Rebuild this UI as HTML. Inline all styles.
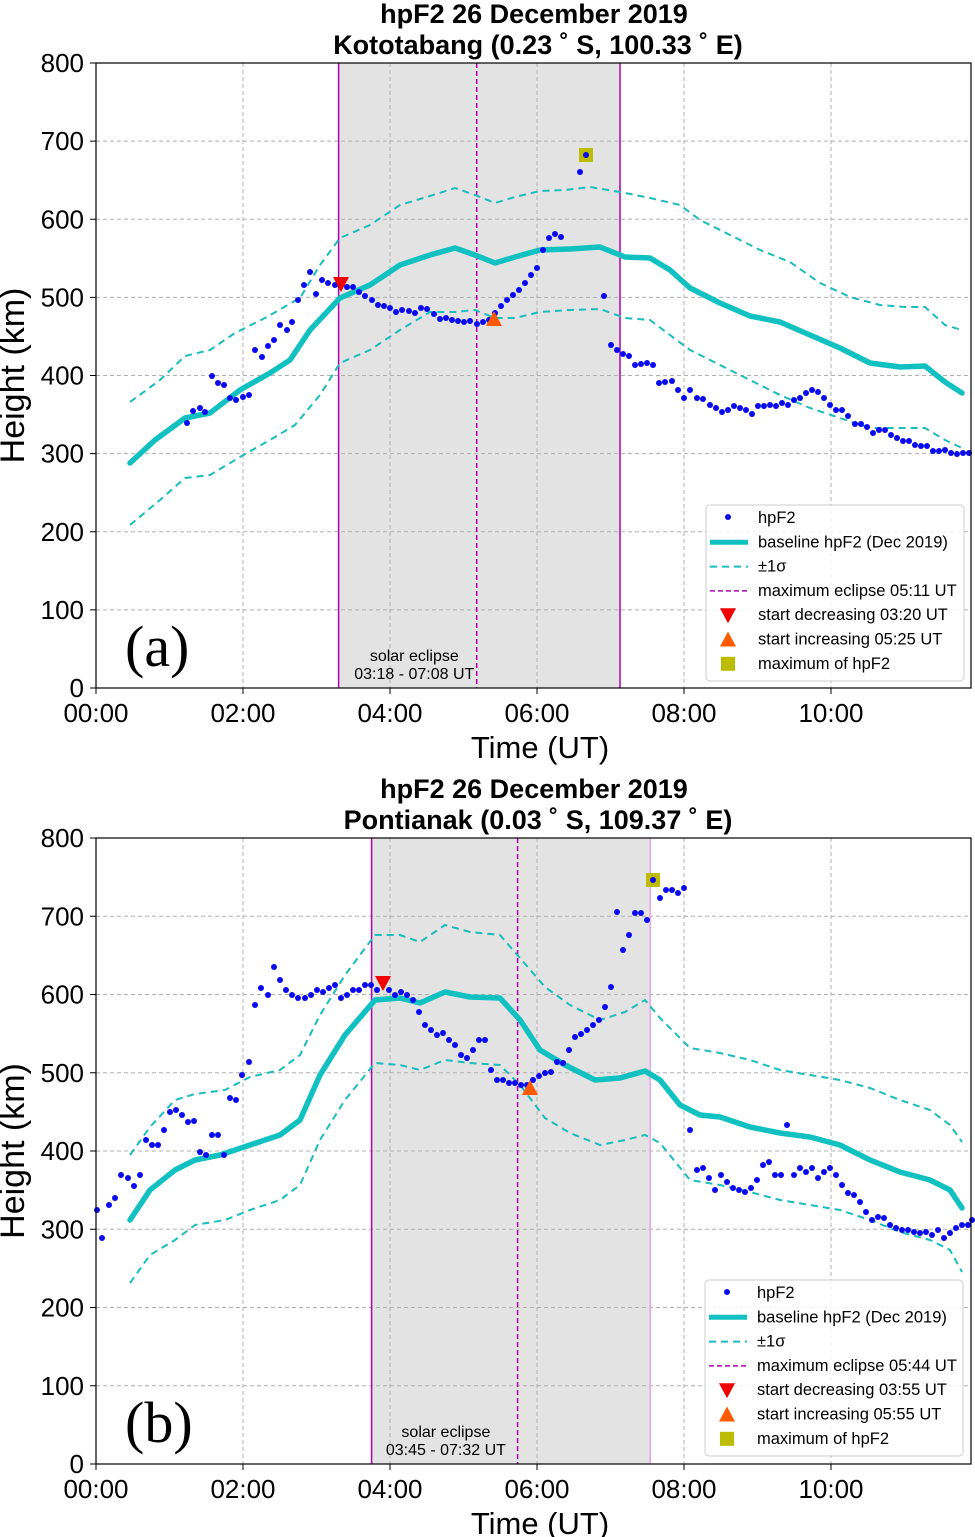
<!DOCTYPE html>
<html><head><meta charset="utf-8"><style>
body{margin:0;background:#fff}
svg{display:block;font-family:"Liberation Sans",sans-serif}
</style></head><body>
<svg id="s" width="975" height="1537" viewBox="0 0 975 1537" xmlns="http://www.w3.org/2000/svg"></svg>
<script>
const S=document.getElementById('s');let h='';
function P(a){return a.map(p=>p.join(',')).join(' ');}
function panel(o){
 const y0=o.y0,y8=o.y8,L=96,R=971,k=(y0-y8)/800;
 h+=`<rect x="${o.es}" y="${y8}" width="${o.ee-o.es}" height="${y0-y8}" fill="#e3e3e3"/>`;
 for(let i=0;i<6;i++){const x=L+i*147;h+=`<line x1="${x}" y1="${y8}" x2="${x}" y2="${y0}" stroke="#b0b0b0" stroke-dasharray="4,3" stroke-width="1"/>`;
  h+=`<text x="${x}" y="${y0+34}" font-size="26" text-anchor="middle">${String(i*2).padStart(2,'0')}:00</text>`;}
 for(let v=0;v<=800;v+=100){const y=y0-v*k;h+=`<line x1="${L}" y1="${y}" x2="${R}" y2="${y}" stroke="#b0b0b0" stroke-dasharray="4,3" stroke-width="1"/>`;
  h+=`<line x1="${L-6}" y1="${y}" x2="${L}" y2="${y}" stroke="#000"/><text x="${L-12}" y="${y+9}" font-size="26" text-anchor="end">${v}</text>`;}
 for(let i=0;i<6;i++){const x=L+i*147;h+=`<line x1="${x}" y1="${y0}" x2="${x}" y2="${y0+6}" stroke="#000"/>`;}
 h+=`<line x1="${o.es}" y1="${y8}" x2="${o.es}" y2="${y0}" stroke="${o.sc}" stroke-width="1.5"/>`;
 h+=`<line x1="${o.ee}" y1="${y8}" x2="${o.ee}" y2="${y0}" stroke="${o.ec}" stroke-width="1.5"/>`;
 h+=`<line x1="${o.em}" y1="${y8}" x2="${o.em}" y2="${y0}" stroke="#b000b0" stroke-width="1.5" stroke-dasharray="5,3"/>`;
 h+=`<polyline points="${P(o.up)}" fill="none" stroke="#1bbcbc" stroke-width="2" stroke-dasharray="7,5" stroke-linejoin="round"/>`;
 h+=`<polyline points="${P(o.lo)}" fill="none" stroke="#1bbcbc" stroke-width="2" stroke-dasharray="7,5" stroke-linejoin="round"/>`;
 h+=`<polyline points="${P(o.bl)}" fill="none" stroke="#11c0c0" stroke-width="5.5" stroke-linejoin="round" stroke-linecap="round"/>`;
 o.d.forEach(p=>h+=`<circle cx="${p[0]}" cy="${p[1]}" r="3" fill="#0a0af0"/>`);
 let [a,b]=o.rd;h+=`<polygon points="${a-8},${b-7} ${a+8},${b-7} ${a},${b+8}" fill="#f00000"/>`;
 [a,b]=o.or;h+=`<polygon points="${a-8},${b+7} ${a+8},${b+7} ${a},${b-8}" fill="#ff5a00"/>`;
 [a,b]=o.ye;h+=`<rect x="${a-7}" y="${b-7}" width="14" height="14" fill="#bcbc00"/><circle cx="${a}" cy="${b}" r="3" fill="#0a0af0"/>`;
 h+=`<rect x="${L}" y="${y8}" width="${R-L}" height="${y0-y8}" fill="none" stroke="#000" stroke-width="1.2"/>`;
 h+=`<text x="${(o.es+o.ee)/2-65}" y="${y0-27}" font-size="16" text-anchor="middle">solar eclipse</text><text x="${(o.es+o.ee)/2-65}" y="${y0-9}" font-size="16" text-anchor="middle">${o.et}</text>`;
 h+=`<text x="125" y="${y0-22}" font-size="58" font-family="Liberation Serif,serif">${o.lab}</text>`;
 h+=`<text x="534" y="${y8-40}" font-size="27" font-weight="bold" text-anchor="middle">hpF2 26 December 2019</text>`;
 h+=`<text x="538" y="${y8-9}" font-size="27" font-weight="bold" text-anchor="middle">${o.t2}</text>`;
 h+=`<text x="540" y="${y0+70}" font-size="31" text-anchor="middle">Time (UT)</text>`;
 h+=`<text transform="translate(24,${(y0+y8)/2}) rotate(-90)" font-size="34" text-anchor="middle">Height (km)</text>`;
 const lx=o.lg[0],ly=o.lg[1];
 h+=`<rect x="${lx}" y="${ly}" width="258" height="176" rx="4" fill="#fff" fill-opacity="0.85" stroke="#ccc"/>`;
 const it=o.li;const yy=i=>ly+13+i*24.3;
 it.forEach((t,i)=>h+=`<text x="${lx+52}" y="${yy(i)+5}" font-size="16.5">${t}</text>`);
 h+=`<circle cx="${lx+22}" cy="${yy(0)-1}" r="3" fill="#0a0af0"/>`;
 h+=`<line x1="${lx+4}" y1="${yy(1)}" x2="${lx+42}" y2="${yy(1)}" stroke="#11c0c0" stroke-width="5"/>`;
 h+=`<line x1="${lx+4}" y1="${yy(2)}" x2="${lx+42}" y2="${yy(2)}" stroke="#1bbcbc" stroke-width="2" stroke-dasharray="7,5"/>`;
 h+=`<line x1="${lx+4}" y1="${yy(3)}" x2="${lx+42}" y2="${yy(3)}" stroke="#b000b0" stroke-width="1.5" stroke-dasharray="5,3"/>`;
 a=lx+22;b=yy(4);h+=`<polygon points="${a-8},${b-7} ${a+8},${b-7} ${a},${b+8}" fill="#f00000"/>`;
 b=yy(5);h+=`<polygon points="${a-8},${b+7} ${a+8},${b+7} ${a},${b-8}" fill="#ff5a00"/>`;
 b=yy(6);h+=`<rect x="${a-7}" y="${b-7}" width="14" height="14" fill="#bcbc00"/>`;
}
panel({y0:688,y8:63,es:338.6,ee:620,em:476.7,sc:"#b000b0",ec:"#b000b0",et:"03:18 - 07:08 UT",lab:"(a)",t2:"Kototabang (0.23 ˚ S, 100.33 ˚ E)",
lg:[706,505],li:["hpF2","baseline hpF2 (Dec 2019)","±1σ","maximum eclipse 05:11 UT","start decreasing 03:20 UT","start increasing 05:25 UT","maximum of hpF2"],
rd:[341,284],or:[494,319],ye:[586,155],
bl:[[130,463],[155,440],[185,418],[210,413],[240,390],[270,373],[290,360],[310,330],[340,298],[370,285],[400,265],[430,255],[455,248],[475,255],[495,263],[515,257],[540,250],[570,249],[600,247],[625,257],[650,258],[670,270],[690,288],[720,303],[750,316],[780,322],[810,335],[840,348],[870,363],[900,367],[925,366],[945,382],[962,393]],
up:[[130,402],[160,380],[185,356],[210,350],[235,333],[265,318],[300,298],[320,265],[340,238],[370,225],[400,205],[430,196],[455,188],[475,195],[495,203],[515,197],[540,191],[565,190],[590,187],[620,192],[650,198],[680,205],[700,220],[730,235],[760,250],[790,262],[820,283],[850,297],[880,305],[905,307],[925,307],[945,325],[962,330]],
lo:[[130,525],[160,500],[185,478],[210,475],[240,457],[270,440],[295,425],[320,395],[340,363],[370,350],[400,330],[430,312],[455,312],[475,310],[495,318],[515,318],[540,312],[570,310],[600,309],[625,318],[650,320],[670,335],[690,350],[720,365],[750,380],[780,395],[810,408],[840,418],[870,428],[900,428],[925,428],[945,440],[962,448]],
d:[[187,423],[193,411],[200,408],[205,412],[212,376],[218,383],[224,385],[230,398],[236,400],[243,397],[249,395],[255,350],[262,357],[268,346],[274,340],[280,325],[287,330],[292,322],[298,300],[304,285],[310,272],[316,294],[322,280],[328,283],[335,285],[340,285],[347,287],[353,287],[359,292],[365,296],[372,300],[378,305],[384,306],[390,308],[396,312],[402,310],[409,311],[415,313],[421,308],[427,309],[434,314],[440,319],[446,318],[452,320],[458,321],[464,322],[470,321],[477,324],[483,322],[489,320],[495,313],[501,306],[507,300],[513,295],[519,290],[525,283],[531,275],[537,268],[543,250],[549,238],[555,234],[561,237],[580,172],[604,296],[611,345],[617,350],[623,354],[629,356],[635,365],[641,364],[647,363],[653,365],[659,383],[665,382],[672,381],[678,390],[684,398],[690,390],[697,398],[703,399],[710,405],[716,408],[722,412],[728,410],[734,406],[740,408],[746,410],[752,414],[758,406],[764,406],[770,405],[776,406],[782,403],[788,405],[794,400],[800,398],[806,393],[812,390],[818,392],[824,398],[830,405],[836,410],[842,410],[848,416],[855,424],[861,424],[867,427],[873,433],[879,430],[885,430],[891,435],[897,438],[903,441],[909,441],[915,445],[921,446],[927,446],[933,451],[939,451],[945,450],[951,453],[957,454],[963,453],[969,453]]});
panel({y0:1464,y8:838,es:371.6,ee:650.2,em:517.6,sc:"#b000b0",ec:"#f0a0f0",et:"03:45 - 07:32 UT",lab:"(b)",t2:"Pontianak (0.03 ˚ S, 109.37 ˚ E)",
lg:[705,1280],li:["hpF2","baseline hpF2 (Dec 2019)","±1σ","maximum eclipse 05:44 UT","start decreasing 03:55 UT","start increasing 05:55 UT","maximum of hpF2"],
rd:[383,983],or:[530,1088],ye:[653,880],
bl:[[130,1220],[150,1190],[175,1170],[195,1160],[220,1155],[250,1145],[280,1135],[300,1120],[320,1075],[345,1035],[375,1000],[400,998],[420,1003],[445,992],[470,997],[500,998],[520,1020],[540,1050],[565,1065],[595,1080],[620,1078],[645,1071],[660,1080],[680,1105],[700,1115],[720,1117],[750,1127],[780,1133],[810,1137],[840,1145],[870,1160],[900,1172],[930,1180],[950,1190],[962,1208]],
up:[[130,1155],[150,1127],[175,1100],[195,1094],[225,1090],[250,1077],[280,1070],[300,1055],[320,1015],[345,975],[375,935],[400,935],[420,942],[445,925],[470,932],[500,935],[520,958],[545,987],[570,1005],[600,1020],[625,1012],[645,1000],[660,1018],[690,1048],[720,1053],[750,1060],[780,1070],[810,1075],[840,1080],[870,1088],[900,1100],[930,1110],[950,1125],[962,1142]],
lo:[[130,1283],[150,1255],[175,1240],[195,1225],[225,1220],[250,1210],[280,1200],[300,1185],[320,1140],[345,1100],[375,1063],[400,1065],[420,1070],[445,1060],[470,1063],[500,1065],[520,1085],[545,1118],[570,1133],[600,1145],[625,1140],[645,1135],[660,1143],[690,1180],[720,1185],[750,1192],[780,1200],[810,1205],[840,1210],[870,1220],[900,1232],[930,1240],[950,1250],[962,1272]],
d:[[97,1210],[102,1238],[109,1205],[115,1198],[121,1175],[128,1178],[134,1186],[140,1175],[146,1140],[152,1145],[158,1145],[164,1130],[170,1112],[176,1110],[182,1115],[188,1122],[194,1121],[200,1152],[206,1155],[212,1135],[218,1135],[224,1155],[230,1098],[236,1100],[242,1075],[249,1062],[255,1005],[261,988],[268,995],[274,967],[280,980],[286,990],[292,995],[298,998],[305,998],[311,995],[317,990],[323,992],[329,988],[335,985],[341,998],[347,995],[353,990],[359,990],[365,985],[371,985],[377,990],[389,990],[395,995],[401,992],[407,995],[413,1000],[419,1012],[425,1025],[431,1030],[437,1035],[443,1033],[449,1040],[455,1045],[461,1055],[467,1058],[473,1050],[479,1040],[485,1040],[491,1070],[497,1080],[503,1080],[509,1083],[515,1083],[521,1085],[527,1085],[533,1080],[539,1076],[545,1073],[551,1072],[557,1062],[563,1063],[569,1050],[575,1037],[581,1034],[587,1030],[593,1025],[599,1020],[605,1007],[611,987],[617,912],[623,950],[629,935],[635,913],[641,913],[647,920],[660,898],[666,890],[672,890],[678,893],[684,888],[690,1130],[697,1170],[703,1168],[709,1178],[715,1190],[721,1175],[727,1182],[733,1188],[739,1190],[745,1192],[751,1188],[757,1180],[763,1165],[769,1162],[775,1175],[781,1175],[787,1125],[794,1175],[800,1168],[806,1172],[812,1168],[818,1178],[824,1172],[830,1168],[836,1175],[842,1185],[848,1193],[854,1195],[860,1202],[866,1212],[872,1220],[878,1217],[884,1218],[890,1225],[896,1228],[902,1230],[908,1230],[914,1232],[920,1233],[926,1232],[932,1235],[938,1230],[944,1238],[950,1233],[956,1228],[962,1225],[968,1225],[972,1220]]});
S.innerHTML=h;
</script>
</body></html>
